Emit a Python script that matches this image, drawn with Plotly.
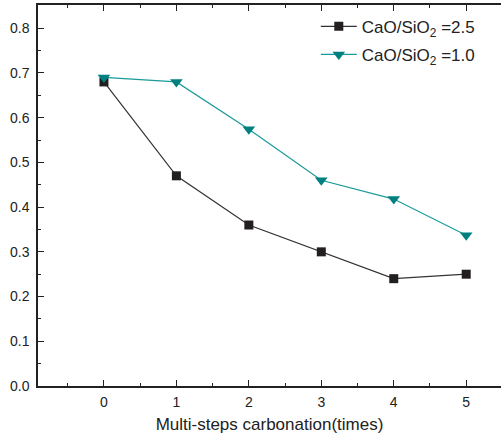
import plotly.graph_objects as go

x_vals = [0, 1, 2, 3, 4, 5]
ratio_25 = [0.68, 0.47, 0.36, 0.30, 0.24, 0.25]
ratio_10 = [0.69, 0.68, 0.574, 0.46, 0.418, 0.337]
names = ["CaO/SiO<sub>2</sub> =2.5", "CaO/SiO<sub>2</sub> =1.0"]
y_ticks = [0.0, 0.1, 0.2, 0.3, 0.4, 0.5, 0.6, 0.7, 0.8]

FONT = "Liberation Sans, Arial, sans-serif"
tick_font = dict(family=FONT, size=14, color="#222222")

fig = go.Figure()
fig.add_trace(go.Scatter(x=x_vals, y=ratio_25, mode="lines+markers", name=names[0],
                         legendgroup="a",
                         line=dict(color="#333333", width=1.2),
                         marker=dict(symbol="square", size=9, color="#231f20")))
fig.add_trace(go.Scatter(x=x_vals, y=ratio_10, mode="lines+markers", name=names[1],
                         legendgroup="b",
                         line=dict(color="#1a9a9a", width=1.2),
                         marker=dict(symbol="triangle-down", size=11, color="#008080")))

fig.update_layout(
    width=501, height=440,
    margin=dict(l=38, r=0, t=5, b=54),
    paper_bgcolor="white", plot_bgcolor="white",
    font=dict(family=FONT, size=14, color="#222222"),
    showlegend=True,
    legend=dict(x=0.6, y=0.99, xanchor="left", yanchor="top",
                font=dict(family=FONT, size=17, color="#222222"),
                bgcolor="rgba(0,0,0,0)", tracegroupgap=3, itemwidth=36),
    xaxis=dict(range=[-0.91, 5.48], tickmode="array", tickvals=x_vals,
               tickfont=tick_font,
               ticks="inside", ticklen=6, tickcolor="#222", showline=True, linecolor="#222",
               linewidth=1.5, mirror="ticks", showgrid=False, zeroline=False,
               ticklabelstandoff=2,
               minor=dict(ticks="inside", ticklen=3, dtick=0.5, tick0=0, tickcolor="#222"),
               title=dict(text="Multi-steps carbonation(times)",
                          font=dict(family=FONT, size=17, color="#222"),
                          standoff=10)),
    yaxis=dict(range=[0, 0.852], tickmode="array", tickvals=y_ticks,
               ticktext=[f"{v:.1f}" for v in y_ticks],
               tickfont=tick_font,
               ticks="inside", ticklen=6, tickcolor="#222", showline=True, linecolor="#222",
               linewidth=1.5, showgrid=False, zeroline=False,
               ticklabelstandoff=4,
               minor=dict(ticks="inside", ticklen=3, dtick=0.05, tick0=0, tickcolor="#222")),
)
fig.write_html("out.html")
